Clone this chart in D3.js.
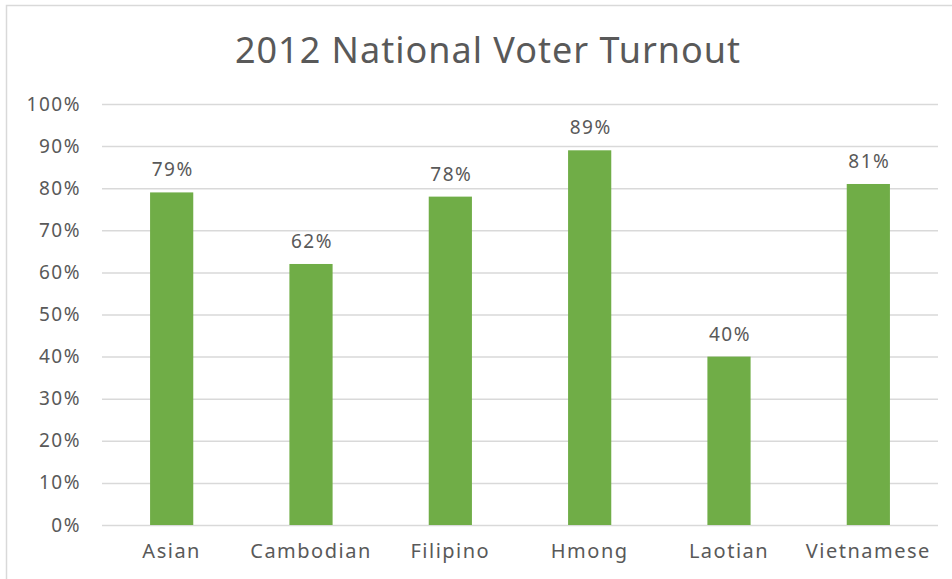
<!DOCTYPE html>
<html>
<head>
<meta charset="utf-8">
<script src="https://cdn.jsdelivr.net/npm/d3@7"></script>
<style>
  html, body { margin: 0; padding: 0; background: #fff; }
  svg { display: block; }
  text { font-family: "Noto Sans", "DejaVu Sans", sans-serif; fill: #595959; }
</style>
</head>
<body>
<svg id="chart" width="952" height="579"></svg>
<script>
const categories = ["Asian", "Cambodian", "Filipino", "Hmong", "Laotian", "Vietnamese"];
const turnout = [79, 62, 78, 89, 40, 81];
const yTicks = [0, 10, 20, 30, 40, 50, 60, 70, 80, 90, 100];
const title = "2012 National Voter Turnout";

const svg = d3.select("#chart");
const W = 952, H = 579;
const plot = { left: 102, right: 938, top: 104, bottom: 525 };

// chart border
svg.append("rect")
  .attr("x", 6.5).attr("y", 5.5)
  .attr("width", W + 10).attr("height", H + 10)
  .attr("fill", "#fff").attr("stroke", "#D9D9D9").attr("stroke-width", 1.5);

const x = d3.scaleBand().domain(categories).range([plot.left, plot.right]).padding(0);
const y = d3.scaleLinear().domain([0, 100]).range([plot.bottom, plot.top]);

// gridlines + y labels via axis
const yAxis = d3.axisLeft(y).tickValues(yTicks).tickFormat(d => d + "%")
  .tickSize(-(plot.right - plot.left)).tickPadding(21);
const gy = svg.append("g").attr("transform", `translate(${plot.left},0)`).call(yAxis);
gy.select(".domain").remove();
gy.selectAll(".tick line").attr("stroke", "#D9D9D9").attr("stroke-width", 1.5);
gy.selectAll(".tick text").attr("font-size", 19).attr("fill", "#595959")
  .style("letter-spacing", "1.5px")
  .style("font-family", '"Noto Sans", sans-serif');

// x labels
const xAxis = d3.axisBottom(x).tickSize(0).tickPadding(19);
const gx = svg.append("g").attr("transform", `translate(0,${plot.bottom})`).call(xAxis);
gx.select(".domain").remove();
gx.selectAll(".tick text").attr("font-size", 20).attr("fill", "#595959")
  .style("letter-spacing", "1.5px")
  .style("font-family", '"Noto Sans", sans-serif');

// bars
const barW = x.bandwidth() * 0.31;
svg.append("g").selectAll("rect").data(categories).join("rect")
  .attr("x", d => x(d) + x.bandwidth() / 2 - barW / 2)
  .attr("width", barW)
  .attr("y", (d, i) => y(turnout[i]))
  .attr("height", (d, i) => y(0) - y(turnout[i]))
  .attr("fill", "#70AD47");

// data labels
svg.append("g").selectAll("text").data(categories).join("text")
  .attr("x", d => x(d) + x.bandwidth() / 2 + 1)
  .attr("y", (d, i) => y(turnout[i]) - 16)
  .attr("text-anchor", "middle")
  .attr("font-size", 19)
  .style("letter-spacing", "1.5px")
  .text((d, i) => turnout[i] + "%");

// title
svg.append("text")
  .attr("x", 488).attr("y", 63)
  .attr("text-anchor", "middle")
  .attr("font-size", 36)
  .style("letter-spacing", "1px")
  .text(title);
</script>
</body>
</html>
